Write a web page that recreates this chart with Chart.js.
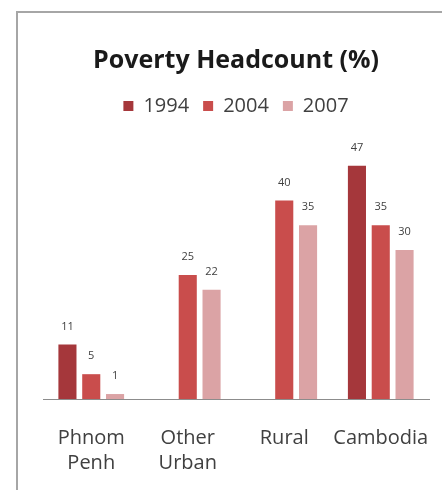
<!DOCTYPE html>
<html>
<head>
<meta charset="utf-8">
<script src="https://cdn.jsdelivr.net/npm/chart.js@4"></script>
<style>
  html, body { margin: 0; background: #fff; overflow: hidden; }
  #frame { position: absolute; left: 16px; top: 11px; right: 0; bottom: 0;
           border-left: 2px solid #a6a6a6; border-top: 2px solid #a6a6a6; }
  #wrap { position: absolute; left: 0; top: 0; width: 442px; height: 490px; }
</style>
</head>
<body>
<div id="frame"></div>
<div id="wrap"><canvas id="povertyChart"></canvas></div>
<script>
// Poverty headcount by area
var categories = [["Phnom", "Penh"], ["Other", "Urban"], "Rural", "Cambodia"];
var years = ["1994", "2004", "2007"];
var values1994 = [11, null, null, 47];
var values2004 = [5, 25, 40, 35];
var values2007 = [1, 22, 35, 30];

var colors = ["#a5373b", "#c94d4c", "#dba3a5"];

// draw the value above each bar
var valueLabels = {
  id: "valueLabels",
  afterDatasetsDraw: function (chart) {
    var ctx = chart.ctx;
    ctx.save();
    ctx.font = "11px 'Open Sans', sans-serif";
    ctx.fillStyle = "#404040";
    ctx.textAlign = "center";
    ctx.textBaseline = "middle";
    chart.data.datasets.forEach(function (ds, i) {
      chart.getDatasetMeta(i).data.forEach(function (bar, j) {
        if (ds.data[j] == null) return;
        ctx.fillText(ds.data[j], bar.x, bar.y - 18);
      });
    });
    ctx.restore();
  }
};

var ctx = document.getElementById("povertyChart").getContext("2d");

new Chart(ctx, {
  type: "bar",
  data: {
    labels: categories,
    datasets: [
      { label: years[0], data: values1994, backgroundColor: colors[0] },
      { label: years[1], data: values2004, backgroundColor: colors[1] },
      { label: years[2], data: values2007, backgroundColor: colors[2] }
    ]
  },
  plugins: [valueLabels],
  options: {
    responsive: true,
    maintainAspectRatio: false,
    animation: false,
    layout: { padding: { top: 46, left: 43, right: 13, bottom: 0 } },
    datasets: { bar: { categoryPercentage: 0.74, barPercentage: 0.76 } },
    plugins: {
      title: {
        display: true,
        text: "Poverty Headcount (%)",
        color: "#1a1a1a",
        font: { family: "'Open Sans', sans-serif", size: 25, weight: "bold", lineHeight: 1.2 },
        padding: { top: 0, bottom: 6 }
      },
      legend: {
        labels: {
          color: "#404040",
          font: { family: "'Open Sans', sans-serif", size: 20 },
          boxWidth: 10,
          boxHeight: 10,
          padding: 14
        }
      },
      tooltip: { enabled: false }
    },
    scales: {
      x: {
        grid: { display: false },
        border: { display: true, color: "#8c8c8c", width: 1 },
        ticks: {
          color: "#404040",
          font: { family: "'Open Sans', sans-serif", size: 20, lineHeight: 1.25 },
          padding: 19,
          maxRotation: 0,
          autoSkip: false
        },
        afterFit: function (scale) {
          scale.height = 91;
          scale.paddingLeft = 0;
          scale.paddingRight = 0;
        }
      },
      y: {
        display: false,
        min: 0,
        max: 55
      }
    }
  }
});
</script>
</body>
</html>
